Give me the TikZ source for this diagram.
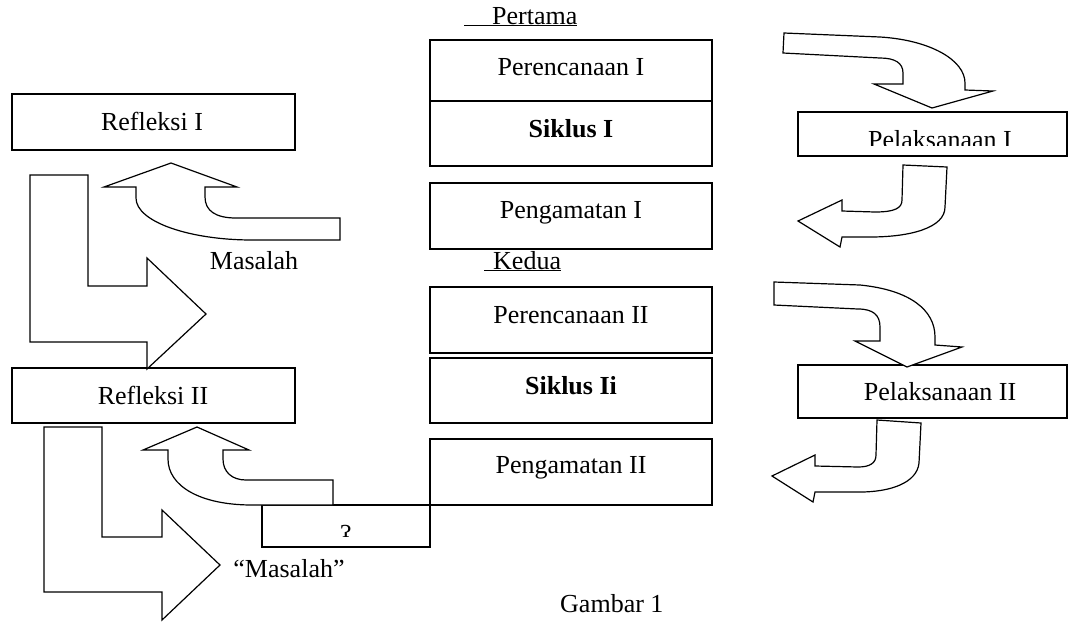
\documentclass[tikz,border=0pt]{standalone}
\usepackage{fontspec}
\setmainfont{Liberation Serif}
\begin{document}
\begin{tikzpicture}[x=1pt,y=-1pt,
  every node/.style={font=\fontsize{26}{30}\selectfont, inner sep=0pt},
  box/.style={draw, line width=1.3pt, rectangle, minimum width=282pt},
  blk/.style={draw, line width=1.2pt, fill=white, line join=miter},
  lbl/.style={anchor=base}]
\useasboundingbox (0,0) rectangle (1076,622);

% central column
\node[lbl, anchor=base west] (pertama) at (464,24) {\underline{\hspace{28pt}Pertama}};
\node[box, minimum height=61pt] (perI) at (571,70.5) {};
\node[box, minimum height=65pt] (sikI) at (571,133.5) {};
\node[box, minimum height=66pt] (pengI) at (571,216) {};
\node[lbl, anchor=base west] (kedua) at (484,269) {\underline{\hspace{9pt}Kedua}};
\node[box, minimum height=66pt] (perII) at (571,320) {};
\node[box, minimum height=65pt] (sikII) at (571,390.5) {};
\node[box, minimum height=66pt] (pengII) at (571,472) {};

\node[lbl] (tperI) at (571,75) {Perencanaan I};
\node[lbl] (tsikI) at (571,137) {\bfseries Siklus I};
\node[lbl] (tpengI) at (571,218) {Pengamatan I};
\node[lbl] (tperII) at (571,323) {Perencanaan II};
\node[lbl] (tsikII) at (571,394) {\bfseries Siklus Ii};
\node[lbl] (tpengII) at (571,473) {Pengamatan II};

% left boxes
\node[box, minimum width=283pt, minimum height=56pt] (refI) at (153.5,122) {};
\node[box, minimum width=283pt, minimum height=55pt] (refII) at (153.5,395.5) {};
\node[lbl] (trefI) at (152,130) {Refleksi I};
\node[lbl] (trefII) at (153,404) {Refleksi II};

% question box
\node[box, minimum width=168pt, minimum height=42pt] (qbox) at (346,526) {};
\node[lbl] (tq) at (346,537) {ɂ};

% right boxes
\node[box, minimum width=269pt, minimum height=44pt] (pelI) at (932.5,134) {};
\node[box, minimum width=269pt, minimum height=53pt] (pelII) at (932.5,391.5) {};
\begin{scope}
\clip (798,112) rectangle (1067,145);
\node[lbl] (tpelI) at (940,148) {Pelaksanaan I};
\end{scope}
\node[lbl] (tpelII) at (940,400) {Pelaksanaan II};

% labels
\node[lbl] (mas1) at (254,269) {Masalah};
\node[lbl] (mas2) at (289,577) {``Masalah''};
\node[lbl, anchor=base west] (gambar) at (560,612) {Gambar 1};

% left block arrows
\draw[blk] (171,163) -- (237,187) -- (205,187) -- (205,197)
  .. controls (205,211) and (216,218) .. (236,218) -- (340,218) -- (340,240) -- (252,240)
  .. controls (190,240) and (136,222) .. (136,198) -- (136,187) -- (104,187) -- cycle;
\draw[blk] (30,175) -- (88,175) -- (88,286) -- (147,286) -- (147,258) -- (206,314)
  -- (147,369) -- (147,342) -- (30,342) -- cycle;
\draw[blk] (44,427) -- (102,427) -- (102,537) -- (162,537) -- (162,510) -- (220,565)
  -- (162,620) -- (162,592) -- (44,592) -- cycle;
\draw[blk] (197,427) -- (249,450) -- (223,450) -- (223,459)
  .. controls (223,472) and (232,480) .. (246,480) -- (333,480) -- (333,505) -- (252,505)
  .. controls (200,505) and (168,486) .. (168,459) -- (168,450) -- (143,450) -- cycle;

% right block arrows
\draw[blk] (784,33) -- (880,37) .. controls (930,40) and (965,60) .. (965,83)
  -- (965,90) -- (993,91) -- (932,108) -- (874,84) -- (903,84) -- (903,73)
  .. controls (903,63) and (895,58) .. (880,58) -- (783,53) -- cycle;
\draw[blk] (774,282) -- (860,285) .. controls (910,290) and (935,310) .. (935,337)
  -- (935,345) -- (962,347) -- (907,367) -- (855,341) -- (880,341) -- (880,327)
  .. controls (880,315) and (873,309) .. (858,309) -- (774,305) -- cycle;
\draw[blk] (903,165) -- (947,167) -- (945,207) .. controls (945,228) and (910,237) .. (870,237)
  -- (842,237) -- (840,247) -- (798,221) -- (842,200) -- (842,211) -- (875,212)
  .. controls (895,212) and (902,208) .. (902,200) -- cycle;
\draw[blk] (877,420) -- (921,423) -- (919,463) .. controls (917,483) and (890,492) .. (860,492)
  -- (815,492) -- (813,502) -- (772,476) -- (815,455) -- (815,466) -- (858,467)
  .. controls (870,467) and (876,463) .. (876,455) -- cycle;
\end{tikzpicture}
\end{document}
